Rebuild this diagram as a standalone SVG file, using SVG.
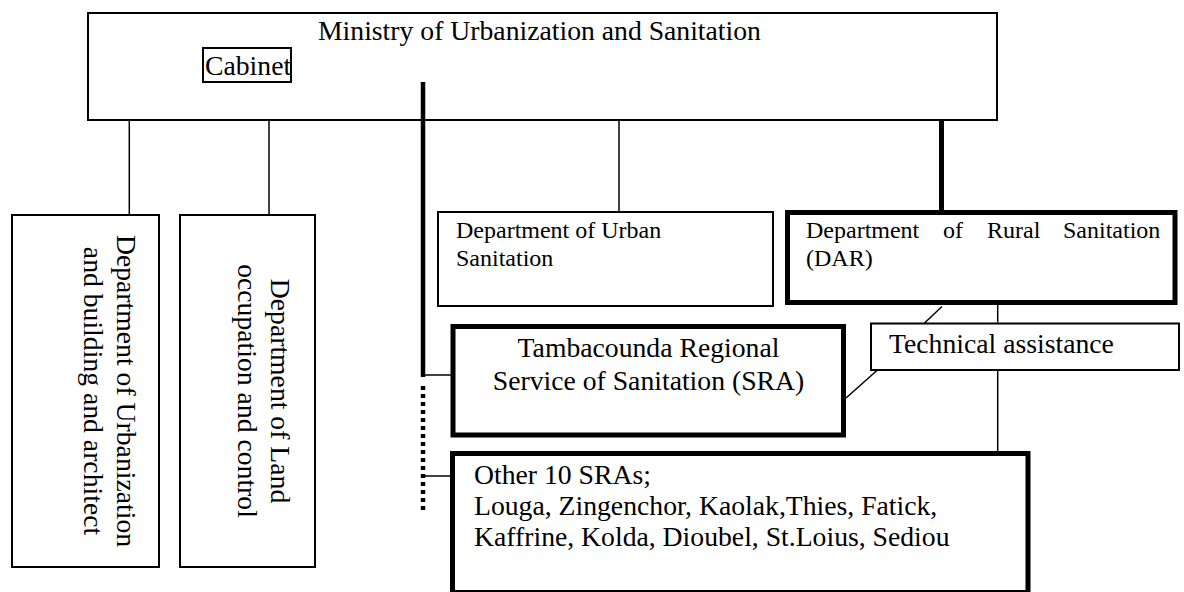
<svg xmlns="http://www.w3.org/2000/svg" width="1184" height="592" viewBox="0 0 1184 592">
<style>
text{font-family:"Liberation Serif","Times New Roman",serif;fill:#000}
.big{font-size:27.7px}
.small{font-size:24px}
.box{fill:#fff;stroke:#000;stroke-width:2}
.tbox{fill:#fff;stroke:#000;stroke-width:5}
.ln{stroke:#000;stroke-width:1.5;fill:none}
.thk{stroke:#000;stroke-width:4.5;fill:none}
.dot{stroke:#000;stroke-width:4.5;stroke-dasharray:4 4;fill:none}
</style>
<rect width="1184" height="592" fill="#fff"/>
<g id="ministry">
<rect class="box" x="88" y="13" width="909" height="107"/>
<text class="big" x="318" y="40">Ministry of Urbanization and Sanitation</text>
</g>
<g id="cabinet">
<rect class="box" x="203" y="48" width="88" height="34"/>
<text class="big" x="205" y="75">Cabinet</text>
</g>
<g id="dept-urbanization">
<rect class="box" x="12" y="215" width="147" height="352"/>
<text class="big" text-anchor="middle" transform="translate(117,391) rotate(90)">Department of Urbanization</text>
<text class="big" text-anchor="middle" transform="translate(84,391) rotate(90)">and building and architect</text>
</g>
<g id="dept-land">
<rect class="box" x="180" y="215" width="135" height="352"/>
<text class="big" text-anchor="middle" transform="translate(271,391) rotate(90)">Department of Land</text>
<text class="big" text-anchor="middle" transform="translate(238,391) rotate(90)">occupation and control</text>
</g>
<g id="dept-urban-sanitation">
<rect class="box" x="438" y="212" width="335" height="94"/>
<text class="small" x="456" y="238">Department of Urban</text>
<text class="small" x="456" y="266">Sanitation</text>
</g>
<g id="dept-rural-sanitation">
<rect class="tbox" x="787.5" y="212.5" width="387.5" height="90"/>
<text class="small" y="238"><tspan x="806">Department</tspan><tspan x="943">of</tspan><tspan x="987">Rural</tspan><tspan x="1063">Sanitation</tspan></text>
<text class="small" x="806" y="266">(DAR)</text>
</g>
<g id="tambacounda-sra">
<rect class="tbox" x="453" y="326.5" width="390.5" height="108.5"/>
<text class="big" text-anchor="middle" x="648.5" y="357">Tambacounda Regional</text>
<text class="big" text-anchor="middle" x="648.5" y="390">Service of Sanitation (SRA)</text>
</g>
<g id="technical-assistance">
<rect class="box" x="871" y="323.5" width="308" height="46.5"/>
<text class="big" x="889" y="353">Technical assistance</text>
</g>
<g id="other-sras">
<rect class="tbox" x="452.5" y="453.5" width="575.5" height="139"/>
<text class="big" x="474" y="484">Other 10 SRAs;</text>
<text class="big" x="474" y="515">Louga, Zingenchor, Kaolak,Thies, Fatick,</text>
<text class="big" x="474" y="546">Kaffrine, Kolda, Dioubel, St.Loius, Sediou</text>
</g>
<g id="connectors">
<line class="ln" x1="129.3" y1="121" x2="129.3" y2="214"/>
<line class="ln" x1="269" y1="121" x2="269" y2="214"/>
<line class="ln" x1="619" y1="121" x2="619" y2="211"/>
<line class="thk" x1="941.5" y1="121" x2="941.5" y2="211" style="stroke-width:5"/>
<line class="thk" x1="423" y1="82" x2="423" y2="377"/>
<line class="ln" x1="423" y1="375" x2="451" y2="375"/>
<line class="dot" x1="423" y1="386" x2="423" y2="512"/>
<line class="ln" x1="423" y1="476" x2="450.5" y2="476"/>
<line class="ln" x1="997.7" y1="305" x2="997.7" y2="322.5"/>
<line class="ln" x1="997.7" y1="371" x2="997.7" y2="451"/>
<line class="ln" x1="942" y1="306.5" x2="924.5" y2="323"/>
<line class="ln" x1="877.5" y1="370" x2="846" y2="398"/>
</g>
</svg>
